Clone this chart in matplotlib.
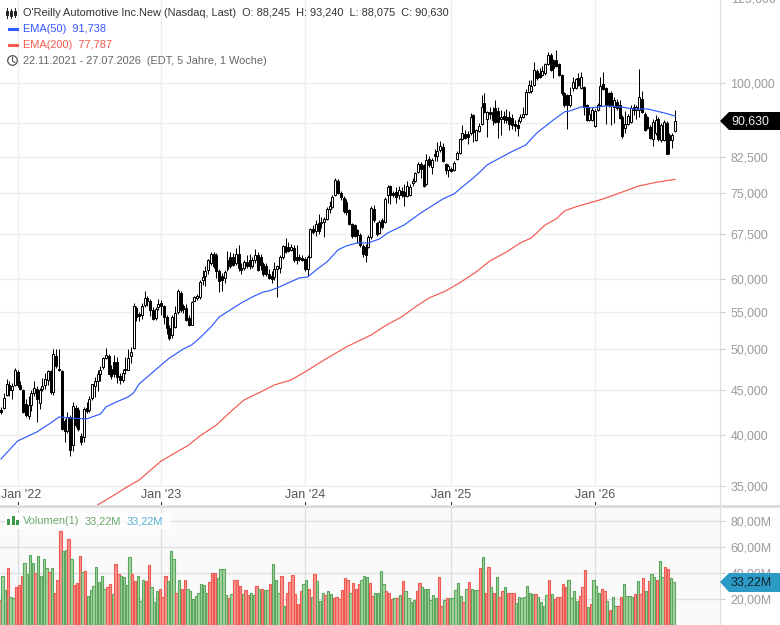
import numpy as np
import matplotlib
matplotlib.use("Agg")
import matplotlib.pyplot as plt
from matplotlib.patches import Polygon, Rectangle, Circle
from matplotlib.lines import Line2D

plt.rcParams['font.family'] = ['Liberation Sans', 'DejaVu Sans']

# weekly candles, open high low close
candles_a = [
    (42.7,43.0,42.2,42.4),(42.9,44.6,42.8,44.0),(44.4,46.3,44.3,45.6),(45.5,46.0,44.2,44.9),(44.9,45.8,43.9,45.4),
    (45.5,47.6,45.4,47.3),(47.1,47.4,45.3,45.5),(45.5,46.0,44.9,45.1),(45.0,45.1,42.3,42.4),(43.3,43.9,41.9,42.1),
    (42.0,44.3,41.7,43.2),(43.2,45.0,42.6,44.6),(44.6,46.0,44.3,45.2),(45.1,45.4,41.3,43.9),(43.5,45.2,42.8,45.0),
    (45.1,46.4,44.8,45.4),(45.5,47.0,45.1,46.2),(46.1,47.4,45.5,47.2),(47.2,47.3,44.5,44.7),(44.7,50.0,44.4,49.4),
    (49.1,50.0,47.6,47.8),(47.5,50.0,47.2,47.3),(47.2,47.3,40.5,40.6),(41.5,41.7,39.3,40.4),(40.4,42.4,40.2,41.9),
    (41.9,42.1,37.8,38.4),(38.9,43.6,38.3,43.1),(42.9,43.2,40.8,41.0),(42.7,43.0,40.4,40.6),(39.9,40.2,38.9,39.2),
    (39.8,43.0,39.2,42.8),(42.9,43.6,42.3,42.6),(42.7,44.3,42.4,43.9),(44.0,45.7,43.8,45.6),(45.4,46.5,44.1,46.0),
    (46.0,47.3,44.8,46.9),(46.8,47.8,46.0,47.4),(47.7,49.0,47.5,48.8),(48.8,50.1,48.7,49.2),(49.1,49.4,46.8,46.9),
    (47.5,48.0,46.3,46.6),(48.3,49.2,46.5,46.8),(48.4,49.0,45.8,46.5),(46.6,47.0,45.6,46.1),(46.1,47.5,45.9,47.0),
    (47.5,49.0,46.9,47.3),(47.4,50.0,47.3,48.8),(49.1,50.3,48.2,49.6),(50.1,56.3,50.0,55.9),
]
candles_b = [
    (55.6,56.0,53.8,54.3),(54.8,55.1,53.8,54.5),(54.7,56.3,54.0,56.0),(56.1,58.1,55.8,57.1),(57.1,57.4,55.9,56.6),
    (56.7,57.0,54.5,55.4),(55.4,55.8,53.9,54.1),(54.2,55.8,53.9,55.5),(55.8,57.0,55.4,56.2),(56.3,56.8,54.7,55.9),
    (55.9,56.1,53.4,54.4),(54.4,54.6,52.0,52.8),(52.8,53.2,51.2,51.5),(51.8,54.6,51.5,54.3),(53.0,56.0,52.8,54.9),
    (55.0,58.5,54.8,58.2),(57.9,58.2,55.1,55.4),(55.9,56.2,54.9,55.5),(55.7,56.2,53.8,53.9),(54.2,54.6,53.1,53.2),
    (53.3,56.6,53.2,56.5),(56.7,57.4,56.6,57.3),(57.1,57.7,56.8,57.4),(57.2,59.9,56.9,59.6),(59.8,61.5,59.0,60.3),
    (60.4,62.0,58.9,61.2),(61.4,63.2,60.8,63.0),(62.5,64.3,62.2,64.0),(64.0,64.3,61.8,62.0),(63.8,64.2,60.2,61.2),
    (61.2,61.6,58.0,59.7),(60.4,61.0,58.1,59.8),(60.2,61.5,59.4,61.1),(61.6,64.5,61.2,63.1),(63.6,64.3,61.8,62.0),
    (63.5,64.2,62.0,62.2),(62.5,65.0,62.2,64.0),(64.0,65.5,61.2,61.7),(61.7,62.5,60.8,61.5),(61.7,63.0,61.4,62.7),
    (62.8,63.8,61.8,62.0),(63.0,64.0,61.6,62.0),(62.0,63.5,61.8,63.0),(63.0,64.8,62.6,63.8),(63.9,64.3,61.2,61.5),
    (63.6,64.0,61.5,62.3),(62.4,62.8,60.5,60.8),
]
candles_c = [
    (62.1,62.6,60.4,60.8),(60.8,61.6,60.0,60.2),(60.5,61.2,59.4,60.0),(60.3,62.8,59.9,61.6),(61.6,62.2,57.3,62.0),
    (61.7,63.8,60.9,63.5),(63.6,65.6,63.2,65.4),(65.4,66.8,64.2,64.4),(65.3,66.0,64.4,64.6),(64.7,65.8,64.5,65.3),
    (65.0,65.5,62.7,63.0),(63.6,65.6,62.4,63.0),(63.5,64.0,62.9,63.2),(63.4,63.9,62.9,63.1),(63.2,63.6,61.3,61.6),
    (61.6,63.8,60.4,63.5),(63.6,68.5,63.4,68.3),(68.3,69.0,67.5,67.9),(68.0,70.0,67.2,69.3),(69.5,71.0,67.5,68.0),
    (69.7,70.5,68.5,69.4),(69.6,70.5,67.0,70.2),(70.2,72.4,70.0,72.1),(72.1,73.5,71.3,72.6),(72.4,74.6,72.2,74.2),
    (74.7,78.1,74.5,77.7),(77.5,77.8,74.9,75.1),(75.1,75.5,73.8,74.3),(74.1,74.4,71.3,71.6),(73.3,74.0,70.9,71.5),
    (71.8,72.0,69.1,69.3),(69.2,69.5,66.8,67.1),(69.0,69.3,66.9,67.1),(68.1,68.4,65.9,67.3),(67.3,67.7,65.3,65.5),
    (65.4,65.7,63.5,64.1),(65.3,65.7,62.7,63.8),(65.3,67.3,65.0,66.9),(67.0,72.6,66.6,72.2),(72.1,72.8,69.7,70.0),
    (69.4,69.7,67.2,67.4),(67.7,70.0,67.4,69.6),(69.9,70.3,68.4,68.7),(69.6,74.2,69.4,73.9),(74.6,76.6,73.1,76.3),
    (76.4,76.7,72.9,74.6),(75.0,75.5,74.2,74.6),(75.2,76.3,73.2,74.3),(74.6,76.4,74.0,75.6),(75.4,76.2,74.2,74.6),
    (75.2,76.8,72.6,74.4),
]
candles_d = [
    (74.4,77.5,74.2,76.4),(74.7,76.8,74.5,76.3),(77.0,78.0,76.5,77.5),(77.5,79.3,77.3,79.1),(79.2,81.4,79.0,81.0),
    (81.0,81.4,78.0,79.9),(80.8,81.0,76.2,76.4),(76.9,83.2,76.7,81.8),(82.0,82.6,80.4,80.8),(80.4,82.2,78.9,81.8),
    (83.0,84.2,81.7,82.6),(82.7,85.8,81.5,83.8),(83.9,86.0,83.5,84.9),(84.6,85.6,81.3,81.5),(80.9,81.2,78.9,79.8),
    (79.8,81.0,78.2,80.5),(79.9,80.4,79.2,79.6),(79.8,81.5,79.6,81.2),(82.0,83.8,81.8,83.4),(83.4,86.6,83.2,86.4),
    (86.5,89.5,86.2,87.7),(87.6,88.4,86.3,86.7),(87.5,88.3,85.4,86.9),(87.7,92.4,87.3,91.5),(91.9,92.3,85.8,87.9),
    (86.2,88.7,86.0,88.5),(88.3,90.2,88.0,89.4),(89.8,97.0,89.6,93.8),(94.9,97.3,92.5,92.8),(91.0,93.0,86.8,92.6),
    (92.8,93.8,91.0,92.3),(92.8,94.0,89.6,90.8),(93.6,95.7,90.0,90.4),(93.0,94.0,86.6,90.4),(91.0,93.1,87.4,91.6),
    (91.8,93.0,90.0,91.0),(91.5,93.4,90.0,90.8),(91.5,93.0,88.5,89.9),(91.3,92.2,88.8,89.5),(89.8,90.8,88.3,89.4),
    (89.7,91.0,87.0,89.0),(90.6,92.3,90.2,91.5),(91.5,93.8,91.3,92.2),(92.3,98.5,92.0,97.7),(97.7,100.8,97.4,99.4),
    (97.8,100.8,97.4,99.3),(99.4,105.5,99.1,103.3),(103.2,103.6,100.8,101.2),(102.5,104.0,101.2,101.5),
]
candles_e = [
    (102.1,104.6,101.7,103.2),(102.5,105.4,102.2,105.1),(105.1,108.4,104.9,107.6),(107.5,108.0,103.2,103.4),
    (106.2,106.5,101.4,103.9),(106.2,109.0,104.1,104.5),(105.1,105.4,101.9,102.1),(102.1,102.4,97.0,97.3),
    (97.3,97.6,94.0,94.3),(96.9,97.2,88.7,94.3),(94.4,99.0,94.0,96.9),(98.6,101.6,97.8,100.3),(98.7,101.3,98.5,100.9),
    (101.2,102.5,99.2,99.5),(98.7,102.8,98.4,101.5),(99.0,99.3,92.0,94.0),(94.4,94.6,90.6,90.8),(90.8,94.0,90.6,92.2),
    (90.8,94.0,90.6,93.2),(89.4,93.5,89.1,93.0),(93.2,95.0,93.0,94.4),(94.4,101.6,94.2,99.2),(99.7,103.0,98.1,98.4),
    (98.6,99.0,89.8,94.3),(97.3,97.7,94.0,94.3),(97.3,98.0,89.7,94.4),(94.0,96.5,90.0,95.7),(95.2,96.0,93.2,93.6),
    (94.4,95.7,91.0,91.2),(91.6,92.0,86.7,87.0),(88.9,93.0,87.8,89.8),(89.8,92.3,89.5,91.8),(90.4,94.4,90.2,93.6),
    (94.0,94.6,92.0,93.3),(93.3,94.5,91.0,93.9),(93.1,103.8,91.5,96.5),(95.9,98.0,92.5,92.8),(92.3,92.6,88.2,88.5),
    (91.4,91.7,88.6,88.9),(89.1,89.5,86.4,86.6),(86.4,91.0,84.8,90.4),(87.7,92.0,87.4,90.8),(91.0,91.5,86.0,86.5),
    (86.2,90.0,85.8,89.6),(86.2,90.8,86.0,90.4),(90.2,90.5,83.0,83.0),(87.3,87.7,83.0,86.2),(86.2,87.8,84.5,87.4),
    (88.245,93.24,88.075,90.63),
]

# volume in millions, g / r bar colour
volume_a = [
    (19,'r'),(37.7,'g'),(27,'g'),(43.6,'r'),(21.8,'g'),(21,'g'),(29.5,'r'),(31,'r'),(37.7,'r'),(47.4,'g'),
    (39,'g'),(54,'g'),(48,'g'),(40,'r'),(53,'g'),(37.7,'g'),(50.5,'g'),(43.6,'g'),(40.5,'r'),(43.6,'g'),
    (24.4,'r'),(34.6,'r'),(72.3,'r'),(57,'g'),(58,'g'),(66,'r'),(50.5,'g'),(30.5,'r'),(32,'r'),(53,'r'),
    (40.5,'g'),(41.5,'r'),(22,'g'),(26.7,'g'),(30,'g'),(44.4,'g'),(33,'g'),(37.4,'g'),(28,'g'),(29,'r'),
    (31.5,'r'),(23.6,'g'),(46.7,'r'),(39,'r'),(38,'g'),(36.7,'g'),(31,'g'),(52,'g'),
]
volume_b = [
    (39,'r'),(33.8,'r'),(37.7,'g'),(18.5,'g'),(35,'g'),(33.8,'r'),(46,'r'),(29,'g'),(17.4,'g'),(26,'g'),
    (28,'r'),(21.3,'r'),(37.7,'r'),(33.8,'g'),(57,'g'),(51,'g'),(25,'r'),(35,'g'),(28,'r'),(34.6,'r'),
    (27.4,'g'),(26,'g'),(19.7,'g'),(22,'g'),(25,'g'),(31.3,'g'),(30.5,'g'),(25,'g'),(32.8,'r'),(39.7,'r'),
    (39.7,'r'),(35.9,'g'),(42.8,'g'),(42.8,'g'),(22.8,'g'),(20.5,'r'),(23.6,'g'),(34.4,'r'),(35,'r'),(29.7,'r'),
    (23.6,'g'),(26.7,'r'),(22.8,'r'),(24.4,'g'),(22.8,'g'),(29.7,'r'),(28,'g'),(28,'r'),(26.7,'g'),(26.7,'g'),
]
volume_c = [
    (31.3,'r'),(46.7,'g'),(35,'g'),(24.4,'g'),(37.4,'r'),(14.4,'g'),(25,'r'),(32.8,'r'),(38.2,'r'),(23.6,'r'),
    (16,'r'),(26,'r'),(31.3,'g'),(34.4,'g'),(27.4,'r'),(21.3,'g'),(39,'r'),(33.6,'g'),(18.2,'g'),(25,'g'),
    (22.8,'r'),(26,'g'),(23.6,'g'),(20.5,'r'),(21.3,'r'),(19.7,'r'),(26.7,'r'),(35.9,'r'),(34.4,'r'),(24.4,'g'),
    (32,'r'),(28,'r'),(31.3,'r'),(34.4,'g'),(37.4,'g'),(36.7,'g'),(32,'r'),(22,'r'),(24.4,'g'),(25,'g'),
    (41.3,'g'),(31.3,'g'),(26,'r'),(25,'r'),(19.7,'r'),(20.5,'g'),(20.5,'r'),(22.8,'g'),(33.6,'r'),(26,'g'),
]
volume_d = [
    (20.5,'g'),(17.4,'g'),(19,'g'),(26,'r'),(32,'r'),(29,'g'),(27.4,'g'),(27.4,'g'),(19,'g'),(22.8,'g'),
    (20.5,'g'),(36.7,'r'),(14.4,'r'),(19,'g'),(20.5,'r'),(20.5,'g'),(20.5,'g'),(26.7,'g'),(32,'g'),(22,'g'),
    (17.4,'r'),(28,'g'),(32.8,'r'),(27.4,'g'),(26.7,'g'),(26.7,'g'),(43.6,'r'),(52,'g'),(24.4,'r'),(44.4,'r'),
    (29,'g'),(24.4,'r'),(36.7,'g'),(21.3,'r'),(26,'r'),(29,'g'),(25,'r'),(25,'r'),(25,'r'),(16.7,'g'),
    (21.3,'g'),(20.5,'g'),
]
volume_e = [
    (21.3,'g'),(29.7,'g'),(24.4,'g'),(23.6,'g'),(23.6,'r'),(21.3,'g'),(17.4,'g'),(14.4,'g'),(22.8,'g'),(35,'r'),
    (23.6,'g'),(19.7,'r'),(21.3,'r'),(21.3,'r'),(31.3,'r'),(29,'r'),(35,'g'),(20.5,'g'),(26,'g'),(18.2,'g'),
    (22,'r'),(29,'r'),(42,'r'),(13.6,'g'),(15.9,'r'),(34.4,'g'),(29.7,'g'),(24.4,'g'),(27.4,'r'),(26,'r'),
    (18.2,'g'),(11.3,'r'),(21.3,'g'),(15,'g'),(14.4,'r'),(21.3,'r'),(31.3,'g'),(22,'g'),(22,'g'),(21.3,'g'),
    (23.6,'r'),(33.6,'g'),(23.6,'r'),(36,'r'),(25.9,'g'),(33.6,'r'),(39,'g'),(36.7,'g'),(34.4,'r'),(49,'g'),
    (36.7,'g'),(45,'r'),(42.8,'r'),(36,'g'),(33.22,'g'),
]

# moving averages read at some weeks
ema50_week = [0,6,13,18,21,26,31,36,38,41,46,48,50,58,61,66,69,72,76,79,83,87,91,95,97,100,104,108,111,115,118,122,125,129,133,137,140,146,152,160,164,167,171,173,176,180,184,190,194,200,204,206,210,214,219,224,229,234,240,244]
ema50_val = [37.55,39.35,40.29,41.24,41.89,41.76,41.68,42.22,43.0,43.45,44.14,44.6,45.65,47.97,48.85,50.0,50.54,51.47,52.96,54.36,55.36,56.38,57.27,58.02,58.17,58.63,59.4,60.17,60.33,61.76,62.73,64.73,65.4,65.92,65.92,66.6,67.65,69.08,71.28,73.92,74.9,76.27,78.07,79.1,80.77,82.04,83.33,85.09,87.79,90.81,92.73,92.97,93.94,93.7,94.19,93.94,93.45,93.45,92.49,91.74]
ema200_week = [35,41,45,50,58,63,68,72,78,83,88,94,99,105,110,117,125,134,139,145,150,155,161,166,172,177,183,188,192,197,201,204,208,213,218,225,231,237,244]
ema200_val = [33.32,34.19,34.82,35.55,37.36,38.14,38.95,39.87,41.03,42.44,43.79,44.71,45.54,46.13,47.1,48.6,50.27,51.87,53.1,54.36,55.8,57.12,58.17,59.4,61.12,62.9,64.39,65.92,66.78,69.08,70.17,71.65,72.4,73.16,73.92,75.28,76.47,77.17,77.79]

price_ticks = [35,40,45,50,55,60,67.5,75,82.5,90,100]
price_labels = ['35,000','40,000','45,000','50,000','55,000','60,000','67,500','75,000','82,500','','100,000']
vol_ticks = [20,40,60,80]
vol_labels = ['20,00M','40,00M','60,00M','80,00M']
jan_weeks = [6,58,110,163,215]
jan_labels = ["Jan '22","Jan '23","Jan '24","Jan '25","Jan '26"]
jan_shift = [3.4,0,0,0,0]

candles = candles_a + candles_b + candles_c + candles_d + candles_e
volumes = volume_a + volume_b + volume_c + volume_d + volume_e
opens, highs, lows, closes = [np.array(v) for v in zip(*candles)]
weeks = np.arange(len(candles))
vol = np.array([v[0] for v in volumes])
vol_col = [v[1] for v in volumes]

W, H = 780, 625
fig = plt.figure(figsize=(W/100, H/100), dpi=100)
px = 0.72  # one pixel in points

ax = fig.add_axes([0, (H-505)/H, 720/W, 505/H])
axv = fig.add_axes([0, 0, 720/W, (H-508)/H], facecolor='#fafafa')
xlim = (-0.36, 260.3)

# candles
ax.vlines(weeks, lows, highs, color='black', lw=px, zorder=3)
up = closes >= opens
ax.bar(weeks[up], (closes-opens)[up], bottom=opens[up], width=0.72, facecolor='white', edgecolor='black', lw=px, zorder=4)
ax.bar(weeks[~up], (opens-closes)[~up], bottom=closes[~up], width=0.72, facecolor='black', edgecolor='black', lw=px, zorder=4)
ax.plot(ema50_week, ema50_val, color='#2d5bff', lw=0.85, zorder=5)
ax.plot(ema200_week, ema200_val, color='#f4584e', lw=0.85, zorder=5)

ax.set_yscale('log')
ax.minorticks_off()
ax.set_yticks(price_ticks)
ax.set_yticklabels(price_labels)
ax.set_ylim(33.31, 124.1)
ax.set_xlim(xlim)
ax.yaxis.tick_right()
ax.tick_params(axis='y', length=3.6, width=px, color='#c8c8c8', labelcolor='#9a9a9a', labelsize=8.9, pad=4)
ax.set_xticks(jan_weeks)
ax.set_xticklabels([])
ax.tick_params(axis='x', direction='in', length=3, width=px, color='#333333')
ax.grid(True, color='#eeeeee', lw=1.0)
ax.set_axisbelow(True)
for s in ['top', 'left', 'bottom']:
    ax.spines[s].set_visible(False)
ax.spines['right'].set_color('#dddddd')
for wk, lab, dx in zip(jan_weeks, jan_labels, jan_shift):
    ax.annotate(lab, (wk, 0), xycoords=('data', 'axes fraction'), xytext=(dx*px, 10.5*px), textcoords='offset points',
                ha='center', va='center', color='#555555', fontsize=9.0, zorder=2,
                bbox=dict(facecolor='white', edgecolor='none', pad=1))

# volume
vcolors = {'g': ('#a5d6a0', '#5ba55f'), 'r': ('#f8948e', '#ee5a52')}
axv.bar(weeks-0.5, vol, width=0.85, color=[vcolors[c][0] for c in vol_col],
        edgecolor=[vcolors[c][1] for c in vol_col], lw=0.8, zorder=3)
axv.set_xlim(xlim)
axv.set_ylim(0, 90)
axv.yaxis.tick_right()
axv.set_yticks(vol_ticks)
axv.set_yticklabels(vol_labels)
axv.set_xticks(jan_weeks)
axv.tick_params(axis='y', length=3.6, width=px, color='#c8c8c8', labelcolor='#9a9a9a', labelsize=8.9, pad=4)
axv.tick_params(axis='x', length=0, labelbottom=False)
axv.grid(True, color='#e0e0e0', lw=1.0)
axv.set_axisbelow(True)
for s in ['top', 'left', 'bottom']:
    axv.spines[s].set_visible(False)
axv.spines['right'].set_color('#dddddd')

# everything below is placed in screen pixels, y from the top
ov = fig.add_axes([0, 0, 1, 1], facecolor='none')
ov.set_xlim(0, W)
ov.set_ylim(H, 0)
ov.axis('off')

ov.add_patch(Rectangle((0, 505), W, 3, facecolor='#dddddd', edgecolor='none'))

# the 125,000 label sits half outside the picture
ov.text(731, -1, '125,000', color='#9a9a9a', fontsize=8.9, va='center', ha='left')

# last price tags
ov.add_patch(Polygon([(720,121),(729,112),(780,112),(780,130),(729,130)], facecolor='black', edgecolor='none'))
ov.text(731, 121.5, '90,630', color='#f0f0f0', fontsize=8.9, va='center', ha='left')
ov.add_patch(Polygon([(720,582),(729,573),(780,573),(780,592),(729,592)], facecolor='#2b9ac4', edgecolor='none'))
ov.text(731, 582.5, '33,22M', color='#10242c', fontsize=8.9, va='center', ha='left')

# header
hdr = 7.9
ov.text(23, 12.5, "O'Reilly Automotive Inc.New (Nasdaq, Last)  O: 88,245  H: 93,240  L: 88,075  C: 90,630",
        color='#333333', fontsize=hdr, va='center')
ov.text(23, 29, 'EMA(50)  91,738', color='#3355ff', fontsize=hdr, va='center')
ov.text(23, 45, 'EMA(200)  77,787', color='#f4584e', fontsize=hdr, va='center')
ov.text(23, 60.5, '22.11.2021 - 27.07.2026  (EDT, 5 Jahre, 1 Woche)', color='#666666', fontsize=hdr, va='center')

for xi, y0, y1, b0, b1 in [(7,8,18,11,15), (11,9,18,11,16), (15,8,17,11,15)]:
    ov.add_line(Line2D([xi,xi],[y0,y1], color='#222222', lw=px))
    ov.add_patch(Rectangle((xi-1,b0), 2, b1-b0, facecolor='white', edgecolor='#222222', lw=px))
ov.add_line(Line2D([9,17],[29,29], color='#2d5bff', lw=2.2))
ov.add_line(Line2D([9,17],[45,45], color='#f4584e', lw=2.2))
ov.add_patch(Circle((12.5,60.5), 4.8, facecolor='none', edgecolor='#555555', lw=0.9))
ov.add_line(Line2D([12.5,12.5,15],[57.5,61,62.5], color='#555555', lw=0.8))

# volume legend
ov.add_patch(Rectangle((5,513), 166, 16, facecolor='white', edgecolor='none', alpha=0.85))
for x0, h in [(7,6),(11.5,9),(16,5)]:
    ov.add_patch(Rectangle((x0,525-h), 3.3, h, facecolor='#3c9a46', edgecolor='none'))
ov.text(23, 521, 'Volumen(1)', color='#6aa86a', fontsize=hdr, va='center')
ov.text(85, 521, '33,22M', color='#6aa86a', fontsize=hdr, va='center')
ov.text(127, 521, '33,22M', color='#55b0d0', fontsize=hdr, va='center')

fig.savefig('out.png', dpi=100)
